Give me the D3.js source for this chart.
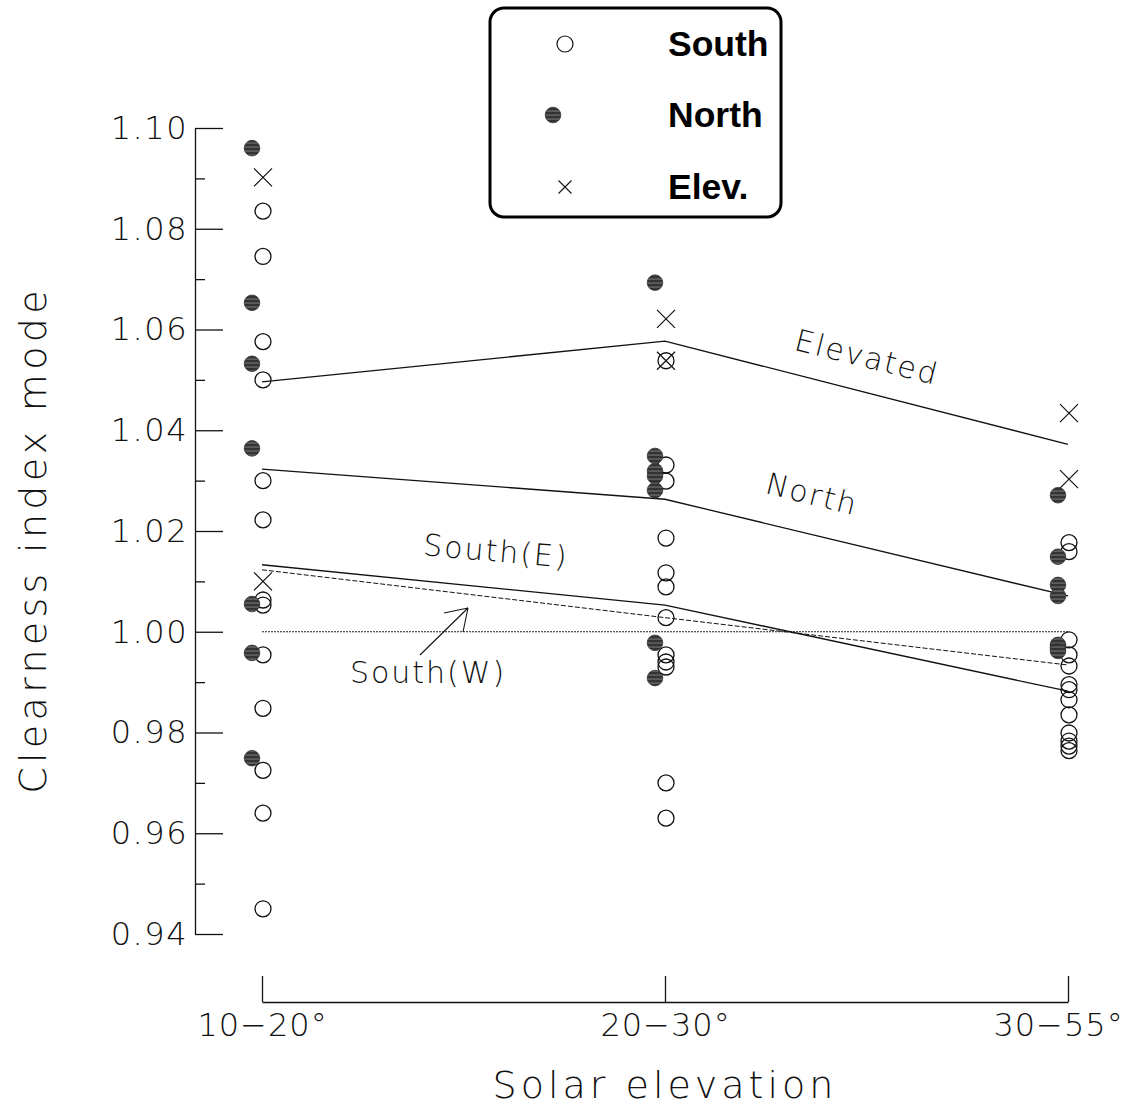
<!DOCTYPE html>
<html>
<head>
<meta charset="utf-8">
<script src="https://cdn.jsdelivr.net/npm/d3@7/dist/d3.min.js"></script>
<style>
  html, body { margin: 0; padding: 0; background: #fff; }
  svg { display: block; }
  .thin { font-family: "DejaVu Sans", sans-serif; font-weight: 200; fill: #111; }
</style>
</head>
<body>
<script>
// ---------- data ----------
const categories = ["10\u221220\u00b0", "20\u221230\u00b0", "30\u221255\u00b0"];
const yTicksMajor = [0.94, 0.96, 0.98, 1.00, 1.02, 1.04, 1.06, 1.08, 1.10];
const yTicksMinor = [0.95, 0.97, 0.99, 1.01, 1.03, 1.05, 1.07, 1.09];

const southValues = [
  [1.0835, 1.0745, 1.0576, 1.0500, 1.0300, 1.0222, 1.0063, 1.0053, 0.9954, 0.9848, 0.9725, 0.9640, 0.9450],
  [1.0538, 1.0331, 1.0299, 1.0186, 1.0117, 1.0089, 1.0028, 0.9954, 0.9940, 0.9930, 0.9700, 0.9630],
  [1.0177, 1.0159, 0.9984, 0.9954, 0.9932, 0.9895, 0.9885, 0.9865, 0.9835, 0.9799, 0.9783, 0.9773, 0.9764]
];
const northValues = [
  [1.0960, 1.0653, 1.0532, 1.0364, 1.0055, 0.9958, 0.9749],
  [1.0693, 1.0349, 1.0319, 1.0309, 1.0281, 0.9978, 0.9908],
  [1.0271, 1.0149, 1.0093, 1.0071, 0.9974, 0.9968, 0.9962]
];
const elevValues = [
  [1.0902, 1.0100],
  [1.0621, 1.0538],
  [1.0434, 1.0303]
];

const elevatedLine = [1.0496, 1.0577, 1.0372];
const northLine    = [1.0323, 1.0263, 1.0071];
const southELine   = [1.0133, 1.0053, 0.9882];
const southWLine   = [1.0123, 1.0028, 0.9934];
const referenceLevel = 1.000;

const legendLabels = ["South", "North", "Elev."];
const lineLabels = ["Elevated", "North", "South(E)", "South(W)"];
const yTitle = "Clearness index mode";
const xTitle = "Solar elevation";

// ---------- setup ----------
const W = 1128, H = 1111;
const svg = d3.select("body").append("svg").attr("width", W).attr("height", H);

const defs = svg.append("defs");
const pat = defs.append("pattern").attr("id", "stripes")
  .attr("patternUnits", "userSpaceOnUse").attr("width", 8).attr("height", 4);
pat.append("rect").attr("width", 8).attr("height", 4).attr("fill", "#333");
pat.append("rect").attr("y", 2.6).attr("width", 8).attr("height", 0.9).attr("fill", "#858585");

const x = d3.scalePoint().domain(categories).range([262, 1068]);
const y = d3.scaleLinear().domain([0.94, 1.10]).range([934, 128]);

// ---------- axes ----------
const yAxis = svg.append("g").attr("transform", "translate(195,0)")
  .call(d3.axisLeft(y).tickValues(yTicksMajor).tickSizeInner(-28).tickSizeOuter(0)
        .tickPadding(7).tickFormat(d3.format(".2f")));
yAxis.select(".domain").attr("stroke", "#111").attr("stroke-width", 1.3);
yAxis.selectAll(".tick line").attr("stroke", "#111").attr("stroke-width", 1.3);
yAxis.selectAll(".tick text").attr("class", "thin").attr("font-size", 32)
  .attr("letter-spacing", 1.5).attr("font-family", null);

const yMinor = svg.append("g").attr("transform", "translate(195,0)")
  .call(d3.axisLeft(y).tickValues(yTicksMinor).tickSizeInner(-10).tickSizeOuter(0).tickFormat(""));
yMinor.select(".domain").remove();
yMinor.selectAll(".tick line").attr("stroke", "#111").attr("stroke-width", 1.3);

const xAxis = svg.append("g").attr("transform", "translate(0,1002)")
  .call(d3.axisBottom(x).tickSizeInner(-26).tickSizeOuter(0).tickPadding(11));
xAxis.select(".domain").attr("stroke", "#111").attr("stroke-width", 1.3);
xAxis.selectAll(".tick line").attr("stroke", "#111").attr("stroke-width", 1.3);
xAxis.selectAll(".tick text").attr("class", "thin").attr("font-size", 32)
  .attr("letter-spacing", 1).attr("font-family", null)
  .attr("dx", (d, i) => i === categories.length - 1 ? -10 : 0);

svg.append("text").attr("class", "thin")
  .attr("transform", "translate(46,540) rotate(-90)")
  .attr("text-anchor", "middle").attr("font-size", 38).attr("letter-spacing", 4.3)
  .text(yTitle);
svg.append("text").attr("class", "thin")
  .attr("x", 665).attr("y", 1098)
  .attr("text-anchor", "middle").attr("font-size", 38).attr("letter-spacing", 4)
  .text(xTitle);

// ---------- lines ----------
const lineGen = d3.line().x((d, i) => x(categories[i])).y(d => y(d));
svg.append("line")
  .attr("x1", x(categories[0])).attr("x2", x(categories[2]))
  .attr("y1", y(referenceLevel)).attr("y2", y(referenceLevel))
  .attr("stroke", "#222").attr("stroke-width", 1).attr("stroke-dasharray", "2,1");
svg.append("path").datum(elevatedLine).attr("d", lineGen)
  .attr("fill", "none").attr("stroke", "#111").attr("stroke-width", 1.3);
svg.append("path").datum(northLine).attr("d", lineGen)
  .attr("fill", "none").attr("stroke", "#111").attr("stroke-width", 1.3);
svg.append("path").datum(southELine).attr("d", lineGen)
  .attr("fill", "none").attr("stroke", "#111").attr("stroke-width", 1.3);
svg.append("path").datum(southWLine).attr("d", lineGen)
  .attr("fill", "none").attr("stroke", "#111").attr("stroke-width", 1)
  .attr("stroke-dasharray", "5,2");

// ---------- markers ----------
const southPts = [], northPts = [], elevPts = [];
categories.forEach((c, i) => {
  southValues[i].forEach(v => southPts.push({ c, v }));
  northValues[i].forEach(v => northPts.push({ c, v }));
  elevValues[i].forEach(v => elevPts.push({ c, v }));
});

svg.append("g").selectAll("circle").data(southPts).join("circle")
  .attr("cx", d => x(d.c) + 1).attr("cy", d => y(d.v)).attr("r", 8)
  .attr("fill", "none").attr("stroke", "#111").attr("stroke-width", 1.3);

svg.append("g").selectAll("circle").data(northPts).join("circle")
  .attr("cx", d => x(d.c) - 10).attr("cy", d => y(d.v)).attr("r", 7.8)
  .attr("fill", "url(#stripes)").attr("stroke", "#333").attr("stroke-width", 0.8);

const crossPath = s => `M${-s},${-s}L${s},${s}M${-s},${s}L${s},${-s}`;
svg.append("g").selectAll("path").data(elevPts).join("path")
  .attr("transform", d => `translate(${x(d.c) + 1},${y(d.v)})`)
  .attr("d", crossPath(9)).attr("stroke", "#111").attr("stroke-width", 1.2).attr("fill", "none");

// ---------- line labels ----------
const lab = svg.append("g");
const labelPos = [
  { t: lineLabels[0], x: 867, y: 357, r: 14 },
  { t: lineLabels[1], x: 812, y: 494, r: 14 },
  { t: lineLabels[2], x: 496, y: 551, r: 5 },
  { t: lineLabels[3], x: 428, y: 672, r: 0 }
];
labelPos.forEach(p => {
  lab.append("text").attr("class", "thin")
    .attr("transform", `translate(${p.x},${p.y}) rotate(${p.r})`)
    .attr("text-anchor", "middle").attr("dominant-baseline", "central")
    .attr("font-size", 30).attr("letter-spacing", 2).text(p.t);
});
// arrow from South(W) label to dashed line
lab.append("path").attr("d", "M420,655L468,608M468,608L444,613M468,608L463,632")
  .attr("stroke", "#111").attr("stroke-width", 1.1).attr("fill", "none");

// ---------- legend ----------
const lg = svg.append("g");
lg.append("rect").attr("x", 490).attr("y", 8).attr("width", 291).attr("height", 209)
  .attr("rx", 14).attr("fill", "#fff").attr("stroke", "#000").attr("stroke-width", 3);
const legendY = [44, 115, 187];
lg.append("circle").attr("cx", 565).attr("cy", legendY[0]).attr("r", 8)
  .attr("fill", "none").attr("stroke", "#111").attr("stroke-width", 1.2);
lg.append("circle").attr("cx", 553).attr("cy", legendY[1]).attr("r", 7.8)
  .attr("fill", "url(#stripes)").attr("stroke", "#333").attr("stroke-width", 0.8);
lg.append("path").attr("transform", `translate(565,${legendY[2]})`)
  .attr("d", crossPath(6.5)).attr("stroke", "#111").attr("stroke-width", 1.1);
legendLabels.forEach((t, i) => {
  lg.append("text").attr("x", 668).attr("y", legendY[i] + 12)
    .attr("font-family", "Liberation Sans, Arial, sans-serif").attr("font-weight", "bold")
    .attr("font-size", 35.5).attr("fill", "#000").text(t);
});
</script>
</body>
</html>
